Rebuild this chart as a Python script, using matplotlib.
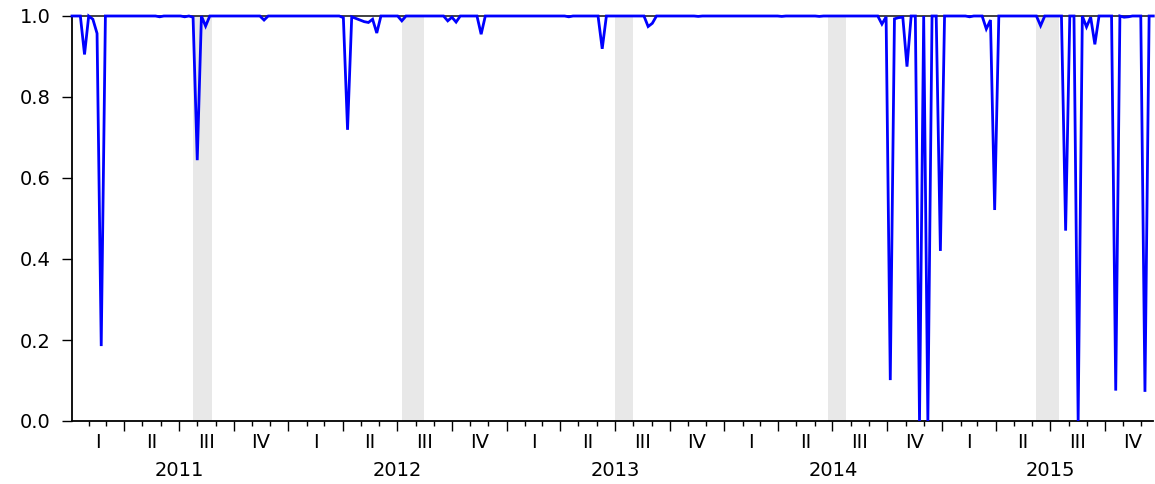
import numpy as np
import pandas as pd
import matplotlib
matplotlib.use("Agg")
import matplotlib.pyplot as plt
import matplotlib.dates as mdates
import matplotlib.transforms as mtransforms

# weekly observations, Monday-dated
first_week = "2011-01-03"
n_weeks = 260

# weeks where the series drops below 1
dip_dates = [
    "2011-01-24", "2011-02-07", "2011-02-14", "2011-02-21", "2011-05-30",
    "2011-07-11", "2011-07-25", "2011-08-01", "2011-08-15", "2011-11-21",
    "2012-04-02", "2012-04-09", "2012-04-16", "2012-04-23", "2012-04-30",
    "2012-05-07", "2012-05-14", "2012-05-21", "2012-05-28", "2012-07-09",
    "2012-09-24", "2012-10-01", "2012-10-08", "2012-11-19",
    "2013-04-15", "2013-06-10", "2013-08-26", "2013-09-02", "2013-11-18",
    "2014-04-07", "2014-06-09", "2014-09-22", "2014-09-29", "2014-10-06",
    "2014-10-13", "2014-10-20", "2014-10-27", "2014-11-03", "2014-11-24",
    "2014-12-08", "2014-12-29",
    "2015-02-16", "2015-03-16", "2015-03-23", "2015-03-30", "2015-06-15",
    "2015-07-27", "2015-08-17", "2015-08-31", "2015-09-07", "2015-09-14",
    "2015-10-19", "2015-11-02", "2015-11-09", "2015-12-07",
]
dip_values = [
    0.905, 0.992, 0.957, 0.185, 0.998,
    0.998, 0.997, 0.644, 0.975, 0.990,
    0.996, 0.719, 0.998, 0.994, 0.990,
    0.986, 0.984, 0.992, 0.958, 0.988,
    0.988, 0.997, 0.985, 0.955,
    0.998, 0.919, 0.974, 0.982, 0.999,
    0.999, 0.999, 0.980, 0.998, 0.101,
    0.993, 0.996, 0.997, 0.875, 0.000,
    0.000, 0.420,
    0.998, 0.968, 0.990, 0.521, 0.976,
    0.470, 0.000, 0.973, 0.997, 0.930,
    0.075, 0.997, 0.998, 0.072,
]

# shaded periods
shade_start = ["2011-07-25", "2012-07-10", "2013-07-02", "2014-06-24", "2015-06-08"]
shade_end = ["2011-08-26", "2012-08-16", "2013-08-01", "2014-07-24", "2015-07-16"]

years = [2011, 2012, 2013, 2014, 2015]
quarter_names = ["I", "II", "III", "IV"]
y_ticks = [0.0, 0.2, 0.4, 0.6, 0.8, 1.0]

weeks = pd.date_range(first_week, periods=n_weeks, freq="W-MON")
series = pd.Series(1.0, index=weeks)
series[pd.to_datetime(dip_dates)] = dip_values

plt.rcParams["font.family"] = "DejaVu Sans"
FS = 14

fig = plt.figure(figsize=(11.55, 4.84), dpi=100)
ax = fig.add_axes([72 / 1155, 63 / 484, (1153.3 - 72) / 1155, 405 / 484])

for s, e in zip(shade_start, shade_end):
    ax.axvspan(pd.Timestamp(s), pd.Timestamp(e), color="#e8e8e8", lw=0, zorder=0)

ax.plot(series.index, series.values, color="#0000ff", lw=2.0, zorder=3,
        clip_on=False, solid_joinstyle="miter")

ax.set_xlim(weeks[0], weeks[-1])
ax.set_ylim(0, 1)

ax.set_yticks(y_ticks)
ax.set_yticklabels([f"{v:.1f}" for v in y_ticks])
ax.tick_params(axis="y", direction="out", length=7.5, width=1, pad=8,
               labelsize=FS, colors="black")

# month ticks short, quarter ticks long
ax.xaxis.set_major_locator(mdates.MonthLocator(bymonth=[1, 4, 7, 10]))
ax.xaxis.set_minor_locator(mdates.MonthLocator())
ax.xaxis.set_major_formatter(plt.NullFormatter())
ax.tick_params(axis="x", which="major", direction="out", length=7.5, width=1)
ax.tick_params(axis="x", which="minor", direction="out", length=3.8, width=1)

ax.spines["right"].set_visible(False)
ax.spines["left"].set_linewidth(1.3)
ax.spines["bottom"].set_linewidth(1.3)
ax.spines["top"].set_linewidth(1.3)
ax.spines["top"].set_color("#333333")
ax.spines["top"].set_zorder(2)

trans = mtransforms.blended_transform_factory(ax.transData, ax.transAxes)
for yr in years:
    for q, name in enumerate(quarter_names):
        q0 = pd.Timestamp(yr, 3 * q + 1, 1)
        q1 = q0 + pd.DateOffset(months=3)
        mid = mdates.date2num(q0 + (q1 - q0) / 2)
        ax.text(mid, -0.054, name, transform=trans, ha="center", va="center",
                fontsize=FS, clip_on=False)
    ymid = mdates.date2num(pd.Timestamp(yr, 7, 2))
    ax.text(ymid, -0.121, str(yr), transform=trans, ha="center", va="center",
            fontsize=FS, clip_on=False)

fig.savefig("out.png", dpi=100)
